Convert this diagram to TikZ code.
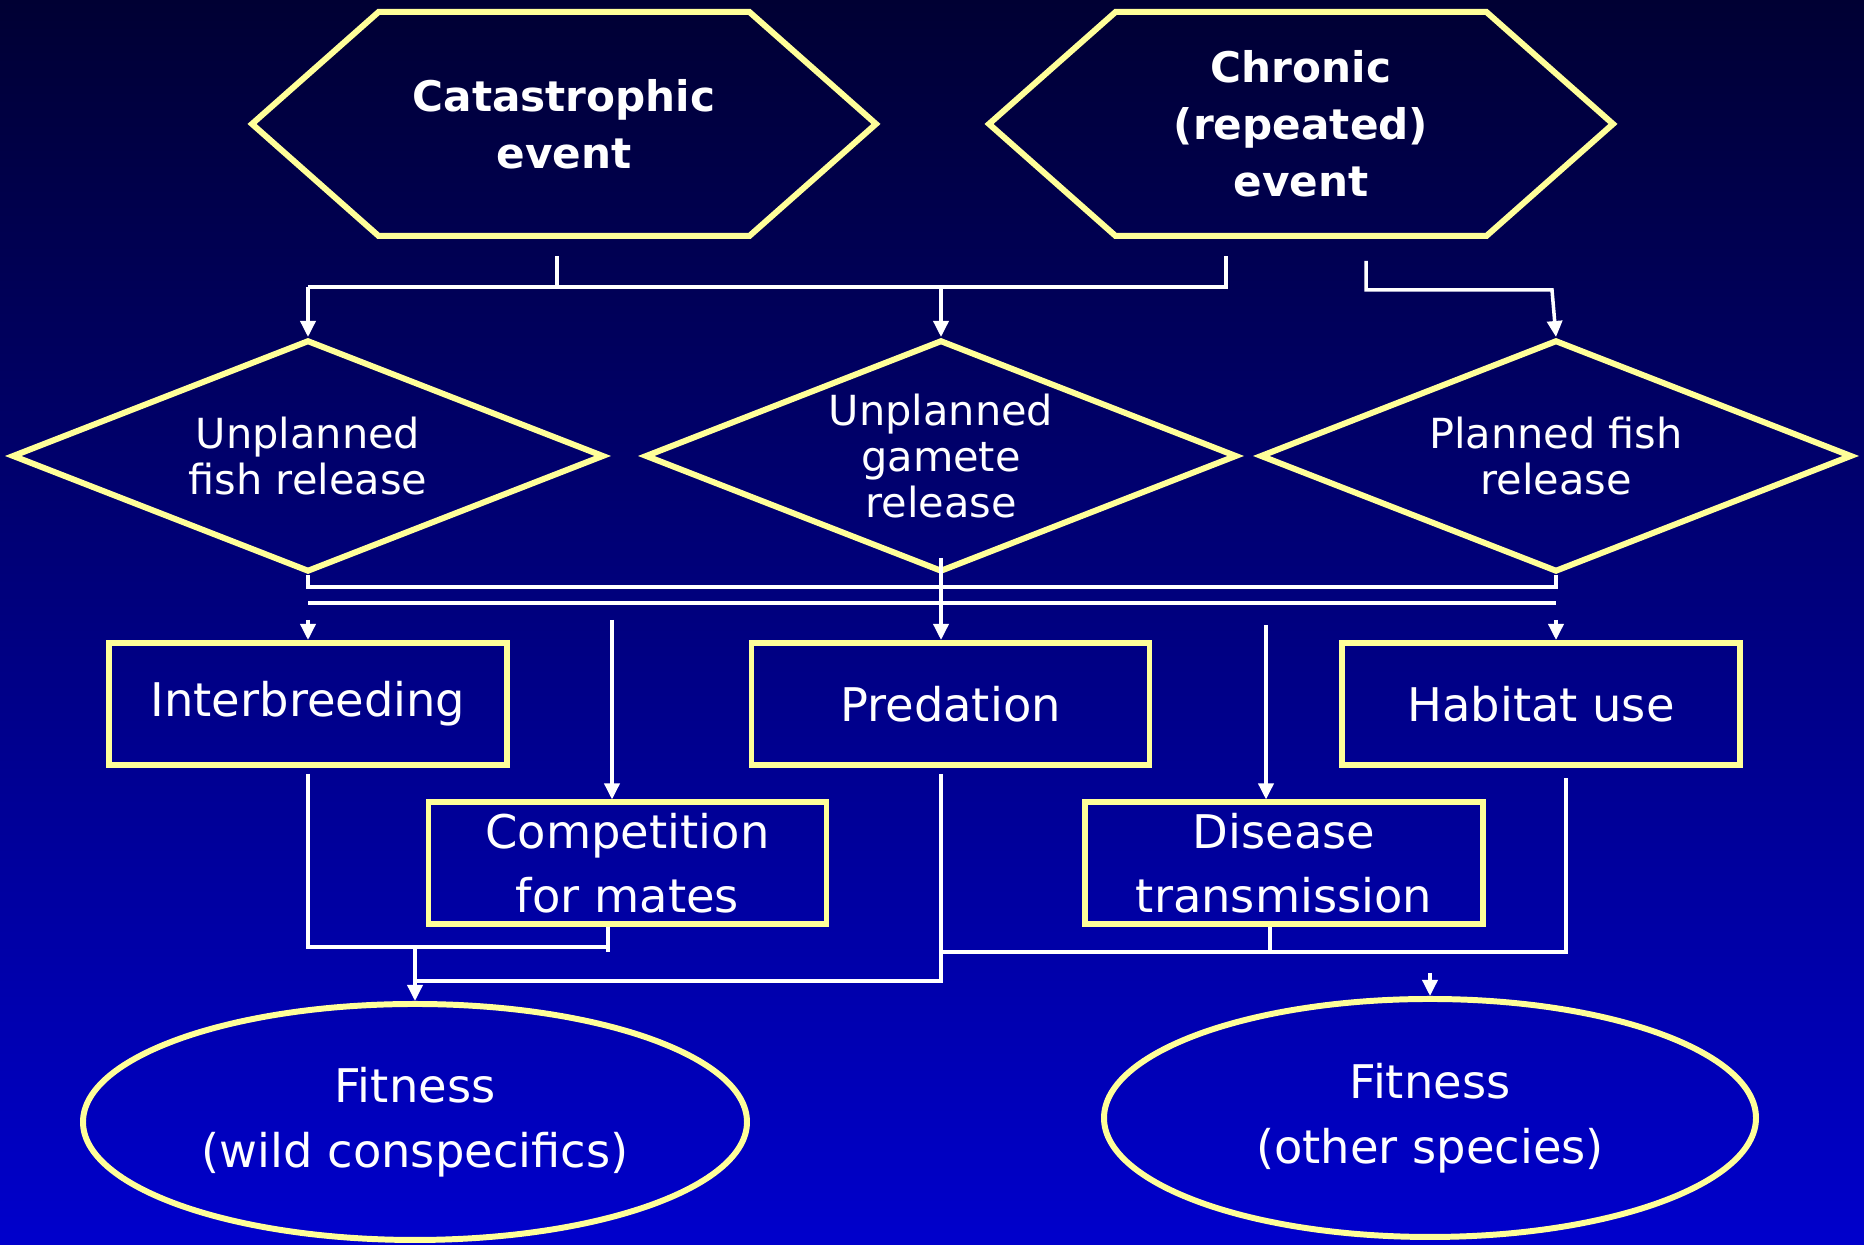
\documentclass[tikz,border=0pt]{standalone}
\usepackage{fontspec}
\setmainfont{DejaVu Sans}
\usetikzlibrary{shapes.geometric,shapes.symbols,arrows.meta}

\definecolor{bgtop}{RGB}{0,0,51}
\definecolor{bgbot}{RGB}{0,0,204}
\definecolor{rim}{RGB}{255,255,153}

\begin{document}
\begin{tikzpicture}[
  line width=1pt,
  hexa/.style={signal, signal to=east and west, signal pointer angle=83,
    minimum width=6.24cm, minimum height=2.24cm, inner sep=0pt,
    draw=rim, line width=1.7pt, text=white, align=center,
    font=\bfseries\fontsize{12}{16.2}\selectfont},
  dia/.style={diamond, aspect=2.55, minimum width=5.92cm, minimum height=2.32cm,
    inner sep=0pt, draw=rim, line width=1.7pt, text=white, align=center,
    font=\fontsize{11.8}{13}\selectfont},
  bx/.style={rectangle, minimum width=3.98cm, minimum height=1.22cm,
    inner sep=0pt, draw=rim, line width=1.7pt, text=white, align=center,
    font=\fontsize{13.2}{18.3}\selectfont},
  ell/.style={ellipse, inner sep=0pt, draw=rim, line width=1.7pt,
    text=white, align=center, font=\fontsize{13.2}{18.5}\selectfont},
  wire/.style={draw=white, line width=1pt},
  arr/.style={wire, -{Triangle[length=0.16cm,width=0.15cm]}}
]

\useasboundingbox (0,0) rectangle (18.64,12.45);
\shade[top color=bgtop, bottom color=bgbot] (0,0) rectangle (18.64,12.45);

% events
\node[hexa] (cat) at (5.64,11.21) {Catastrophic\\event};
\node[hexa] (chr) at (13.01,11.21) {Chronic\\(repeated)\\event};

% releases
\node[dia] (ufr) at (3.08,7.89) {Unplanned\\fish release};
\node[dia] (ugr) at (9.41,7.89) {Unplanned\\gamete\\release};
\node[dia] (pfr) at (15.56,7.89) {Planned fish\\release};

% effects
\node[bx] (inter) at (3.08,5.41) {Interbreeding};
\node[bx] (pred) at (9.505,5.41) {Predation};
\node[bx] (hab) at (15.41,5.41) {Habitat use};
\node[bx] (comp) at (6.275,3.815) {Competition\\for mates};
\node[bx] (dis) at (12.84,3.815) {Disease\\transmission};

% fitness
\node[ell, minimum width=6.64cm, minimum height=2.36cm] (wild) at (4.15,1.23)
  {Fitness\\(wild conspecifics)};
\node[ell, minimum width=6.52cm, minimum height=2.38cm] (other) at (14.30,1.27)
  {Fitness\\(other species)};

% free ends and bus levels
\coordinate (catstub) at (5.57,9.89);
\coordinate (chrstub) at (12.26,9.89);
\coordinate (chrstubb) at (13.66,9.84);
\coordinate (pfrin) at (15.52,9.55);
\coordinate (compin) at (6.12,6.25);
\coordinate (disin) at (12.66,6.20);
\coordinate (compout) at (6.08,0);
\coordinate (disout) at (12.70,0);
\coordinate (habout) at (15.66,4.67);
\coordinate (bus1) at (0,9.58);
\coordinate (bus2) at (0,6.58);
\coordinate (bus3) at (0,6.42);
\coordinate (bus4) at (0,6.25);
\coordinate (bus5) at (0,2.98);
\coordinate (bus6) at (0,2.64);
\coordinate (bus7) at (0,2.93);
\coordinate (bus8) at (0,2.72);

% events -> releases
\draw[wire] (catstub) -- (catstub |- bus1);
\draw[wire] (ufr.north |- bus1) -- (chrstub |- bus1) -- (chrstub);
\draw[arr] (ufr.north |- bus1) -- (ufr.north);
\draw[arr] (ugr.north |- bus1) -- (ugr.north);
\draw[arr] (chrstubb) |- (pfrin) -- (pfr.north);

% releases -> effects
\draw[wire] (ufr.south) -- (ufr.south |- bus2) -- (pfr.south |- bus2) -- (pfr.south);
\draw[wire] (ufr.south |- bus3) -- (pfr.south |- bus3);
\draw[arr] ([yshift=0.17cm]ugr.south) -- (ugr.south |- pred.north);
\draw[arr] (inter.north |- bus4) -- (inter.north);
\draw[arr] (compin) -- (compin |- comp.north);
\draw[arr] (pfr.south |- bus4) -- (pfr.south |- hab.north);
\draw[arr] (disin) -- (disin |- dis.north);

% effects -> wild conspecifics
\draw[wire] ([yshift=-0.06cm]inter.south) -- (inter.south |- bus5) -- (compout |- bus5);
\draw[wire] (compout |- comp.south) -- (compout |- bus7);
\draw[arr] (wild.north |- bus5) -- (wild.north);
\draw[wire] ([yshift=-0.06cm]ugr.south |- pred.south) -- (ugr.south |- bus6)
  -- (wild.north |- bus6);

% effects -> other species
\draw[wire] (ugr.south |- bus7) -- (habout |- bus7) -- (habout);
\draw[wire] (disout |- dis.south) -- (disout |- bus7);
\draw[arr] (other.north |- bus8) -- (other.north);

\end{tikzpicture}
\end{document}
